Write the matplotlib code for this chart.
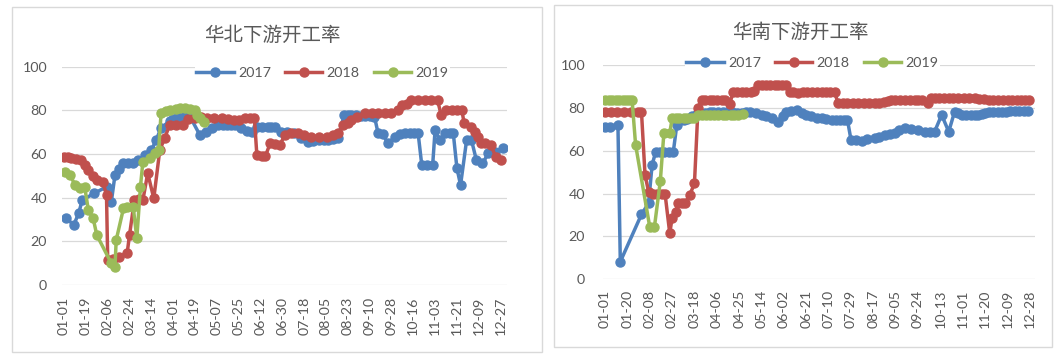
import matplotlib
matplotlib.use('Agg')
import matplotlib.pyplot as plt
from matplotlib.patches import Rectangle
import pandas as pd

plt.rcParams['font.family'] = ['Lato', 'Noto Sans CJK SC', 'DejaVu Sans']

# ---- 华北 (North China) ----
north_2017_dates = ['01-03', '01-09', '01-13', '01-16', '01-26', '02-05', '02-09', '02-12', '02-15', '02-19',
                    '02-23', '02-27', '03-03', '03-09', '03-14', '03-18', '03-22', '03-29', '04-01', '04-05',
                    '04-10', '04-15', '04-23', '04-28', '05-03', '05-08', '05-12', '05-15', '05-19', '05-22',
                    '05-27', '06-01', '06-05', '06-09', '06-13', '06-18', '06-21', '06-24', '06-29', '07-04',
                    '07-10', '07-15', '07-21', '07-25', '07-30', '08-03', '08-07', '08-11', '08-15', '08-20',
                    '08-23', '08-26', '08-30', '09-03', '09-06', '09-10', '09-14', '09-17', '09-21', '09-25',
                    '10-01', '10-05', '10-09', '10-13', '10-17', '10-20', '10-23', '10-27', '11-01', '11-03',
                    '11-07', '11-11', '11-15', '11-18', '11-21', '11-24', '11-29', '12-03', '12-07', '12-12',
                    '12-17', '12-22', '12-29']
north_2017 = [30.5, 27.5, 32.8, 38.9, 42, 45, 38.2, 50.4, 53, 55.7,
              55.7, 55.7, 57.3, 59.5, 61.8, 66.4, 72, 75, 76, 77,
              77, 77, 68.7, 70.2, 72, 73.3, 73.3, 73.3, 73.3, 73.3,
              71.8, 70.5, 70.2, 72.5, 72.5, 72.5, 72.5, 72.5, 70.2, 70,
              69.5, 67.5, 65.6, 66, 66.4, 66.4, 66.4, 66.8, 67.2, 77.9,
              77.9, 77.9, 77.8, 77.6, 77.5, 77.3, 77.1, 69.5, 69, 64.9,
              67.9, 69, 69.5, 69.5, 69.5, 69.5, 55, 55, 55, 71,
              66.4, 69.5, 69.5, 69.5, 53.5, 45.8, 66.4, 66.4, 57.3, 55.7,
              60.3, 61, 62.6]

north_2018_dates = ['01-01', '01-04', '01-07', '01-11', '01-15', '01-18', '01-21', '01-25', '01-28', '02-02',
                    '02-05', '02-06', '02-10', '02-15', '02-22', '02-24', '02-28', '03-04', '03-07', '03-11',
                    '03-16', '03-21', '03-25', '03-29', '04-03', '04-09', '04-13', '04-19', '04-24', '04-29',
                    '05-05', '05-11', '05-16', '05-21', '05-25', '05-30', '06-03', '06-07', '06-09', '06-13',
                    '06-16', '06-20', '06-24', '06-28', '07-02', '07-07', '07-13', '07-18', '07-24', '07-30',
                    '08-06', '08-11', '08-15', '08-19', '08-23', '08-26', '08-31', '09-06', '09-12', '09-17',
                    '09-23', '09-28', '10-03', '10-07', '10-11', '10-14', '10-20', '10-26', '10-31', '11-05',
                    '11-08', '11-12', '11-17', '11-21', '11-25', '11-27', '12-03', '12-06', '12-08', '12-11',
                    '12-14', '12-19', '12-23', '12-27']
north_2018 = [58.8, 58.5, 58, 57.5, 57.3, 55, 52.7, 50, 48.1, 47.3,
              41.2, 11.5, 12, 13, 14.5, 22.9, 38.9, 39.5, 38.9, 51.2,
              39.7, 62, 67.2, 73.3, 73.3, 73.3, 76, 76.4, 77.1, 76.4,
              76.4, 76.4, 76, 75.6, 75.6, 76.4, 76.4, 76.4, 59.5, 59,
              59, 64.9, 64.5, 64.1, 68.7, 69.5, 69.5, 68.5, 67.9, 67.9,
              67.9, 68.5, 69.5, 73.3, 74, 75.6, 77, 78.6, 78.6, 78.6,
              78.6, 78.6, 80, 82.5, 83, 84.7, 84.7, 84.7, 84.7, 84.7,
              77.9, 80.2, 80.2, 80.2, 80.2, 74, 72.5, 70, 67.9, 64.9,
              64.9, 64, 58.8, 57.3]

north_2019_dates = ['01-02', '01-06', '01-10', '01-14', '01-18', '01-21', '01-25', '01-28', '02-09', '02-12',
                    '02-13', '02-19', '02-22', '02-27', '03-02', '03-05', '03-07', '03-13', '03-17', '03-20',
                    '03-22', '03-26', '03-29', '04-03', '04-07', '04-11', '04-15', '04-19', '04-21', '04-23',
                    '04-26']
north_2019 = [51.9, 50.4, 45.8, 44.3, 45, 34.4, 30.5, 22.9, 9.9, 8.4,
              20.6, 35.1, 35.9, 35.9, 21.4, 45, 56.5, 58, 60.3, 61.8,
              78.6, 79.5, 80.2, 80.5, 80.9, 80.9, 80.5, 80.2, 77.9, 76.5,
              74.8]

north_ticks = ['01-01', '01-19', '02-06', '02-24', '03-14', '04-01', '04-19', '05-07', '05-25', '06-12', '06-30',
               '07-18', '08-05', '08-23', '09-10', '09-28', '10-16', '11-03', '11-21', '12-09', '12-27']

# ---- 华南 (South China) ----
south_2017_dates = ['01-01', '01-05', '01-12', '01-14', '02-01', '02-07', '02-10', '02-13', '02-17', '02-20',
                    '02-24', '02-28', '03-03', '03-06', '03-09', '03-12', '03-16', '03-20', '03-24', '03-27',
                    '03-31', '04-03', '04-07', '04-11', '04-15', '04-19', '04-23', '04-27', '05-01', '05-04',
                    '05-09', '05-14', '05-18', '05-23', '05-28', '06-01', '06-04', '06-08', '06-13', '06-17',
                    '06-21', '06-25', '06-30', '07-04', '07-08', '07-13', '07-16', '07-20', '07-23', '07-26',
                    '07-29', '08-02', '08-07', '08-12', '08-18', '08-22', '08-27', '08-31', '09-04', '09-08',
                    '09-13', '09-18', '09-24', '09-30', '10-04', '10-08', '10-14', '10-20', '10-25', '10-28',
                    '10-31', '11-04', '11-08', '11-11', '11-14', '11-17', '11-20', '11-23', '11-27', '12-01',
                    '12-04', '12-08', '12-11', '12-15', '12-19', '12-23', '12-26']
south_2017 = [71.2, 71, 72, 8.2, 30.3, 35.5, 53.3, 59.4, 59.4, 59.4,
              59.4, 59.4, 72, 74.3, 74.5, 75, 76, 77, 77.3, 77.5,
              78, 78, 78, 78, 78, 78, 77.8, 77.5, 78, 78.2,
              77.5, 76.7, 76, 75.1, 73.5, 76, 78.2, 78.6, 79, 77.5,
              76.7, 76, 75.5, 75.5, 75, 74.3, 74.3, 74.3, 74.3, 74.3,
              65, 65, 64.7, 65.3, 65.8, 66.5, 67.3, 68, 68.5, 69.5,
              70.5, 70.2, 69.7, 68.8, 68.9, 68.9, 76.7, 68.9, 78.2, 77.5,
              76.7, 76.7, 76.7, 76.7, 76.7, 77, 77.5, 78.2, 78.2, 78.2,
              78.2, 78.3, 78.5, 78.5, 78.5, 78.5, 78.5]

south_2018_dates = ['01-01', '01-06', '01-11', '01-17', '01-23', '01-29', '02-01', '02-04', '02-07', '02-11',
                    '02-14', '02-18', '02-21', '02-25', '02-27', '03-02', '03-04', '03-07', '03-10', '03-14',
                    '03-18', '03-21', '03-24', '03-27', '03-31', '04-03', '04-06', '04-10', '04-13', '04-17',
                    '04-20', '04-23', '04-27', '05-01', '05-05', '05-08', '05-11', '05-14', '05-18', '05-21',
                    '05-25', '05-28', '05-31', '06-04', '06-07', '06-10', '06-14', '06-18', '06-22', '06-26',
                    '06-30', '07-04', '07-08', '07-11', '07-15', '07-18', '07-22', '07-26', '07-31', '08-04',
                    '08-09', '08-13', '08-18', '08-22', '08-26', '08-29', '09-01', '09-04', '09-09', '09-13',
                    '09-17', '09-21', '09-24', '09-27', '10-02', '10-05', '10-08', '10-12', '10-16', '10-20',
                    '10-24', '10-28', '11-02', '11-06', '11-11', '11-15', '11-19', '11-23', '11-27', '12-01',
                    '12-05', '12-09', '12-13', '12-17', '12-20', '12-24', '12-27']
south_2018 = [78.2, 78.2, 78.2, 78.2, 78.2, 78.2, 78, 48.7, 40.9, 40,
              40, 40, 40, 21.5, 28.5, 31.6, 35.5, 35.5, 35.5, 39.3,
              44.8, 79.8, 83.7, 83.7, 83.7, 83.7, 83.7, 83.7, 83.7, 82,
              87.5, 87.5, 87.5, 87.5, 87.5, 88, 90.7, 90.7, 90.7, 90.7,
              90.7, 90.7, 90.7, 90.7, 87.5, 87.5, 87, 87.5, 87.5, 87.5,
              87.5, 87.5, 87.5, 87.5, 87.5, 82.1, 82.1, 82.1, 82.1, 82.1,
              82.3, 82.5, 82.5, 82.5, 82.8, 83, 83.5, 83.7, 83.7, 83.7,
              83.7, 83.7, 83.7, 83.7, 82.1, 84.5, 84.5, 84.5, 84.5, 84.5,
              84.5, 84.5, 84.5, 84.5, 84.5, 84.2, 84, 83.7, 83.7, 83.7,
              83.7, 83.7, 83.7, 83.7, 83.7, 83.7, 83.7]

south_2019_dates = ['01-01', '01-04', '01-07', '01-10', '01-13', '01-16', '01-19', '01-21', '01-24', '01-27',
                    '02-08', '02-12', '02-17', '02-20', '02-25', '02-27', '03-02', '03-05', '03-09', '03-12',
                    '03-15', '03-18', '03-21', '03-24', '03-28', '03-31', '04-04', '04-07', '04-11', '04-14',
                    '04-18', '04-21', '04-24', '04-28']
south_2019 = [83.7, 83.7, 83.7, 83.7, 83.7, 83.7, 83.7, 83.7, 83.7, 62.7,
              24.5, 24.5, 45.9, 68.1, 68.1, 75.1, 75.1, 75.1, 75.1, 75.1,
              75.1, 75.1, 76.7, 76.7, 76.7, 76.7, 76.7, 76.7, 76.7, 76.7,
              76.7, 76.7, 76.7, 77]

south_ticks = ['01-01', '01-20', '02-08', '02-27', '03-18', '04-06', '04-25', '05-14', '06-02', '06-21',
               '07-10', '07-29', '08-17', '09-05', '09-24', '10-13', '11-01', '11-20', '12-09', '12-28']

years = ['2017', '2018', '2019']
colors = ['#4F81BD', '#C0504D', '#9BBB59']
grey = '#595959'


def day_of_year(labels):
    d = pd.to_datetime(['2017-' + s for s in labels])
    return (d - pd.Timestamp('2017-01-01')).days.values


def draw_panel(ax, series, ticks, xpad, ypad):
    for (dates, vals), name, c in zip(series, years, colors):
        ax.plot(day_of_year(dates), vals, color=c, lw=2.5, marker='o', ms=6.5,
                mec=c, mfc=c, label=name)
    ax.set_ylim(0, 100)
    ax.set_yticks(range(0, 101, 20))
    ax.set_xlim(-1.7, 365.3)
    ax.set_xticks(day_of_year(ticks))
    ax.set_xticklabels(ticks, rotation=90)
    ax.grid(axis='y', color='#d9d9d9', lw=0.9)
    ax.set_axisbelow(True)
    for s in ax.spines.values():
        s.set_visible(False)
    ax.tick_params(axis='x', length=0, pad=xpad, labelsize=10.3, labelcolor=grey)
    ax.tick_params(axis='y', length=0, pad=ypad, labelsize=10.3, labelcolor=grey)


fig = plt.figure(figsize=(10.59, 3.55), dpi=100)

# panel frames
fig.patches.append(Rectangle((12 / 1059, 3 / 355), 530 / 1059, 345 / 355, transform=fig.transFigure,
                             fill=False, ec='#d9d9d9', lw=1))
fig.patches.append(Rectangle((554 / 1059, 8 / 355), 498 / 1059, 342 / 355, transform=fig.transFigure,
                             fill=False, ec='#d9d9d9', lw=1))

ax1 = fig.add_axes([62 / 1059, 70 / 355, 445 / 1059, 218.3 / 355])
draw_panel(ax1, [(north_2017_dates, north_2017), (north_2018_dates, north_2018),
                 (north_2019_dates, north_2019)], north_ticks, 8.4, 10.8)

ax2 = fig.add_axes([603 / 1059, 75.7 / 355, 432 / 1059, 214.3 / 355])
draw_panel(ax2, [(south_2017_dates, south_2017), (south_2018_dates, south_2018),
                 (south_2019_dates, south_2019)], south_ticks, 7.7, 13)

fig.text(272 / 1059, 1 - 35 / 355, '华北下游开工率', ha='center', va='center', fontsize=14, color=grey)
fig.text(800 / 1059, 1 - 32 / 355, '华南下游开工率', ha='center', va='center', fontsize=14, color=grey)

for ax, (cx, cy) in [(ax1, (322.5, 73)), (ax2, (812.5, 63))]:
    h, l = ax.get_legend_handles_labels()
    leg = fig.legend(h, l, loc='center', bbox_to_anchor=(cx / 1059, 1 - cy / 355), ncol=3,
                     fontsize=10.3, frameon=True, facecolor='white', edgecolor='none', framealpha=1,
                     handlelength=2.6, handletextpad=0.3, columnspacing=1.0, borderpad=0.1,
                     markerscale=1.0)
    leg.get_frame().set_boxstyle('square', pad=0)
    for t in leg.get_texts():
        t.set_color(grey)

fig.savefig('out.png', dpi=100, facecolor='white')
